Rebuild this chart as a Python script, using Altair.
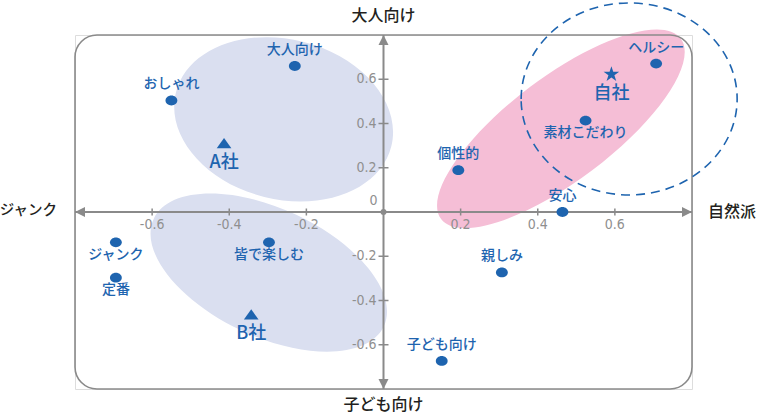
import altair as alt
import pandas as pd

# ---------------- data ----------------
ITEMS = ["大人向け", "おしゃれ", "ヘルシー", "素材こだわり", "個性的", "安心",
         "親しみ", "子ども向け", "ジャンク", "定番", "皆で楽しむ"]
ITEM_X = [-0.23, -0.55, 0.707, 0.524, 0.194, 0.464, 0.307, 0.151, -0.694, -0.694, -0.297]
ITEM_Y = [0.66, 0.504, 0.671, 0.413, 0.189, 0.0, -0.273, -0.673, -0.137, -0.297, -0.137]
ITEM_LABEL_POS = ["above", "above", "above", "below", "above", "above",
                  "above", "above", "below", "below", "below"]

BRANDS = ["A社", "B社", "自社"]
BRAND_X = [-0.4135, -0.343, 0.591]
BRAND_Y = [0.311, -0.463, 0.622]

# group ellipses: centre (data units)
GROUPS = ["A社", "B社", "自社"]
GROUP_X = [-0.259, -0.2975, 0.46]
GROUP_Y = [0.419, -0.274, 0.376]

# dashed target circle centre
TARGET_X = [0.637]
TARGET_Y = [0.511]

X_TICKS = [-0.6, -0.4, -0.2, 0.2, 0.4, 0.6]
X_TICK_LABELS = ["-0.6", "-0.4", "-0.2", "0.2", "0.4", "0.6"]
Y_TICKS = [0.6, 0.4, 0.2, -0.2, -0.4, -0.6]
Y_TICK_LABELS = ["0.6", "0.4", "0.2", "-0.2", "-0.4", "-0.6"]
DOMAIN = [-0.8, 0.8]

AXIS_TITLES = ["大人向け", "子ども向け", "ジャンク", "自然派"]

# ---------------- styles ----------------
BLUE = "#1e64af"
GRAY = "#8a8a8a"
LAVENDER = "#dadff0"
PINK = "#f5bed6"
JP_FONT = "Noto Sans CJK JP"
NUM_FONT = "'DejaVu Sans Condensed', 'Liberation Sans Narrow', 'Roboto', sans-serif"

# ellipse geometry in pixels: (semi-major, semi-minor, clockwise angle)
GROUP_STYLE = [(111, 80, 14, LAVENDER), (127, 64, 25, LAVENDER), (150, 52, 323, PINK)]
TARGET_STYLE = (108, 96, 0)


def ellipse_path(ratio):
    k = 0.5523
    r = ratio
    return (f"M -1 0 C -1 {-k*r:.4f} {-k:.4f} {-r:.4f} 0 {-r:.4f} "
            f"C {k:.4f} {-r:.4f} 1 {-k*r:.4f} 1 0 "
            f"C 1 {k*r:.4f} {k:.4f} {r:.4f} 0 {r:.4f} "
            f"C {-k:.4f} {r:.4f} -1 {k*r:.4f} -1 0 Z")


def star_path():
    return ("M 0 -1 L 0.2245 -0.309 L 0.9511 -0.309 L 0.3633 0.118 L 0.5878 0.809 "
            "L 0 0.382 L -0.5878 0.809 L -0.3633 0.118 L -0.9511 -0.309 L -0.2245 -0.309 Z")


TRI_PATH = "M 0 -0.7 L 1 0.7 L -1 0.7 Z"
DOT_PATH = ellipse_path(0.83)

xs = alt.Scale(domain=DOMAIN, nice=False, zero=False)
ys = alt.Scale(domain=DOMAIN, nice=False, zero=False)


def X(f="x"):
    return alt.X(f"{f}:Q", scale=xs, axis=None)


def Y(f="y"):
    return alt.Y(f"{f}:Q", scale=ys, axis=None)


items = pd.DataFrame({"label": ITEMS, "x": ITEM_X, "y": ITEM_Y, "pos": ITEM_LABEL_POS})
brands = pd.DataFrame({"label": BRANDS, "x": BRAND_X, "y": BRAND_Y})
groups = pd.DataFrame({"g": GROUPS, "x": GROUP_X, "y": GROUP_Y})
target = pd.DataFrame({"x": TARGET_X, "y": TARGET_Y})

layers = []

# group ellipses
for i, (a, b, ang, col) in enumerate(GROUP_STYLE):
    layers.append(
        alt.Chart(groups.iloc[[i]]).mark_point(
            shape=ellipse_path(b / a), size=(2 * a) ** 2, angle=ang,
            filled=True, fill=col, opacity=1, strokeWidth=0
        ).encode(x=X(), y=Y())
    )

# rounded frame
frame = pd.DataFrame({"x": [DOMAIN[0]], "x2": [DOMAIN[1]], "y": [DOMAIN[0]], "y2": [DOMAIN[1]]})
layers.append(alt.Chart(frame).mark_rect(
    filled=False, fill="transparent", stroke=GRAY, strokeWidth=1.6, cornerRadius=22
).encode(x=X(), x2="x2:Q", y=Y(), y2="y2:Q"))

# dashed target ellipse
ta, tb, tang = TARGET_STYLE
layers.append(
    alt.Chart(target).mark_point(
        shape=ellipse_path(tb / ta), size=(2 * ta) ** 2, angle=tang,
        filled=False, stroke=BLUE, strokeWidth=1.6, strokeDash=[9, 6], opacity=1
    ).encode(x=X(), y=Y())
)

# axis lines
hline = pd.DataFrame({"x": [DOMAIN[0]], "x2": [DOMAIN[1]], "y": [0.0]})
vline = pd.DataFrame({"y": [DOMAIN[0]], "y2": [DOMAIN[1]], "x": [0.0]})
layers.append(alt.Chart(hline).mark_rule(color=GRAY, strokeWidth=2).encode(
    x=X(), x2="x2:Q", y=Y()))
layers.append(alt.Chart(vline).mark_rule(color=GRAY, strokeWidth=2).encode(
    y=Y(), y2="y2:Q", x=X()))

# ticks
xt = pd.DataFrame({"x": X_TICKS, "y": [0.0] * len(X_TICKS), "t": X_TICK_LABELS})
yt = pd.DataFrame({"y": Y_TICKS, "x": [0.0] * len(Y_TICKS), "t": Y_TICK_LABELS})
layers.append(alt.Chart(xt).mark_tick(orient="vertical", size=7, thickness=1.5, color=GRAY,
                                      opacity=1).encode(x=X(), y=Y()))
layers.append(alt.Chart(yt).mark_tick(orient="horizontal", size=10, thickness=1.5, color=GRAY,
                                      opacity=1).encode(x=X(), y=Y()))

# arrow heads
arrows = [
    (DOMAIN[0], 0.0, "M 0 0 L 2 -1 L 2 1 Z"),
    (DOMAIN[1], 0.0, "M 0 0 L -2 -1 L -2 1 Z"),
    (0.0, DOMAIN[1], "M 0 0 L -1 2 L 1 2 Z"),
    (0.0, DOMAIN[0], "M 0 0 L -1 -2 L 1 -2 Z"),
]
for ax, ay, p in arrows:
    layers.append(
        alt.Chart(pd.DataFrame({"x": [ax], "y": [ay]})).mark_point(
            shape=p, size=100, filled=True, color=GRAY, opacity=1, strokeWidth=0
        ).encode(x=X(), y=Y())
    )

# origin dot
layers.append(alt.Chart(pd.DataFrame({"x": [0.0], "y": [0.0]})).mark_point(
    shape="circle", size=36, filled=True, color=GRAY, opacity=1).encode(x=X(), y=Y()))

# tick labels
layers.append(alt.Chart(xt).mark_text(font=NUM_FONT, fontSize=14, color="#8f8f8f",
                                      dy=13, baseline="middle", align="center").encode(
    x=X(), y=Y(), text="t:N"))
layers.append(alt.Chart(yt).mark_text(font=NUM_FONT, fontSize=14, color="#8f8f8f",
                                      dx=-7, baseline="middle", align="right").encode(
    x=X(), y=Y(), text="t:N"))
layers.append(alt.Chart(pd.DataFrame({"x": [0.0], "y": [0.0], "t": ["0"]})).mark_text(
    font=NUM_FONT, fontSize=14, color="#8f8f8f", dx=-6, dy=-11,
    baseline="middle", align="right").encode(x=X(), y=Y(), text="t:N"))

# item points
layers.append(alt.Chart(items).mark_point(shape=DOT_PATH, size=140, filled=True,
                                          color=BLUE, opacity=1, strokeWidth=0).encode(
    x=X(), y=Y()))
layers.append(alt.Chart(items).transform_filter(alt.datum.pos == "above").mark_text(
    font=JP_FONT, fontSize=14, fontWeight=500, color=BLUE, dy=-16, baseline="middle").encode(
    x=X(), y=Y(), text="label:N"))
layers.append(alt.Chart(items).transform_filter(alt.datum.pos == "below").mark_text(
    font=JP_FONT, fontSize=14, fontWeight=500, color=BLUE, dy=12.5, baseline="middle").encode(
    x=X(), y=Y(), text="label:N"))

# brand markers
layers.append(alt.Chart(brands.iloc[[0, 1]]).mark_point(
    shape=TRI_PATH, size=215, filled=True, color=BLUE, opacity=1, strokeWidth=0).encode(
    x=X(), y=Y()))
layers.append(alt.Chart(brands.iloc[[2]]).mark_point(
    shape=star_path(), size=270, filled=True, color=BLUE, opacity=1, strokeWidth=0).encode(
    x=X(), y=Y()))
layers.append(alt.Chart(brands).mark_text(
    font=JP_FONT, fontSize=18, fontWeight=500, color=BLUE, dy=20, baseline="middle").encode(
    x=X(), y=Y(), text="label:N"))

# axis titles
titles = [
    (0.0, DOMAIN[1], AXIS_TITLES[0], 0, -19, "center", 16),
    (0.0, DOMAIN[0], AXIS_TITLES[1], 0, 16, "center", 16),
    (DOMAIN[0], 0.0, AXIS_TITLES[2], -18, -1, "right", 14.5),
    (DOMAIN[1], 0.0, AXIS_TITLES[3], 40, 0, "center", 16),
]
for tx, ty, tt, dx, dy, al, fs in titles:
    layers.append(alt.Chart(pd.DataFrame({"x": [tx], "y": [ty], "t": [tt]})).mark_text(
        font=JP_FONT, fontSize=fs, fontWeight=500, color="#231f20", dx=dx, dy=dy,
        baseline="middle", align=al).encode(x=X(), y=Y(), text="t:N"))

chart = alt.layer(*layers).properties(
    width=617, height=354,
    padding={"left": 75, "top": 35, "right": 68, "bottom": 27},
    autosize=alt.AutoSizeParams(type="none"),
).configure_view(
    strokeWidth=0
).configure(background="white")

chart.save("out.html", embed_options={"renderer": "svg", "actions": False})
